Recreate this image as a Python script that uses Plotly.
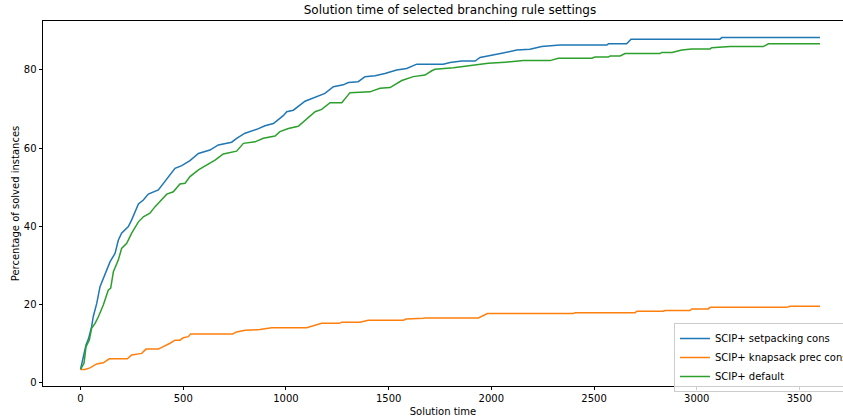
import plotly.graph_objects as go

# Cumulative share of solved instances over solution time (seconds)
setpacking_time = [0, 14, 27, 38, 54, 62, 79, 95, 111, 127, 144, 168, 184, 200, 233, 249,
                   265, 282, 306, 330, 379, 403, 436, 460, 493, 533, 574, 630, 671, 736,
                   760, 801, 858, 898, 939, 987, 1004, 1036, 1093, 1150, 1190, 1231, 1279,
                   1304, 1352, 1385, 1434, 1482, 1539, 1588, 1637, 1766, 1799, 1856, 1921,
                   1945, 2002, 2051, 2124, 2188, 2245, 2334, 2562, 2570, 2659, 2680, 3113,
                   3122, 3600]
setpacking_pct = [3.3, 6.6, 9.6, 11.0, 14.2, 16.8, 20.2, 24.5, 26.6, 28.3, 30.9, 33.0, 36.4,
                  38.2, 39.9, 41.6, 43.7, 45.7, 46.7, 48.2, 49.3, 51.0, 53.1, 54.8, 55.5,
                  56.8, 58.6, 59.5, 60.8, 61.5, 62.5, 63.8, 64.8, 65.7, 66.3, 68.3, 69.3,
                  69.7, 72.0, 73.2, 74.0, 75.7, 76.2, 76.8, 77.0, 78.3, 78.5, 79.1, 80.0,
                  80.4, 81.5, 81.5, 81.9, 82.3, 82.3, 83.2, 83.7, 84.3, 85.1, 85.3, 86.0,
                  86.4, 86.4, 86.7, 86.7, 87.9, 87.9, 88.3, 88.3]

knapsack_time = [0, 22, 46, 79, 111, 140, 228, 249, 298, 319, 379, 411, 436, 460, 484, 500,
                 525, 536, 741, 760, 801, 874, 931, 1101, 1142, 1174, 1260, 1272, 1361, 1401,
                 1572, 1585, 1669, 1677, 1937, 1969, 1981, 2399, 2407, 2700, 2708, 2837,
                 2845, 2967, 2976, 3056, 3065, 3438, 3454, 3600]
knapsack_pct = [3.3, 3.3, 3.7, 4.7, 5.0, 6.0, 6.0, 7.0, 7.4, 8.5, 8.5, 9.3, 10.0, 10.8, 10.8,
                11.4, 11.7, 12.4, 12.4, 12.9, 13.3, 13.5, 14.0, 14.0, 14.7, 15.1, 15.1, 15.4,
                15.4, 15.9, 15.9, 16.2, 16.4, 16.5, 16.5, 17.2, 17.6, 17.6, 17.8, 17.8, 18.2,
                18.2, 18.4, 18.4, 18.8, 18.8, 19.2, 19.2, 19.5, 19.5]

default_time = [0, 17, 27, 43, 54, 71, 87, 111, 135, 147, 160, 184, 200, 225, 249, 282, 306,
                338, 363, 395, 420, 452, 484, 509, 533, 574, 614, 655, 695, 760, 793, 850,
                890, 947, 971, 1012, 1060, 1109, 1142, 1174, 1215, 1272, 1312, 1409, 1458,
                1507, 1564, 1620, 1677, 1710, 1726, 1815, 1880, 1953, 1985, 2067, 2156, 2286,
                2326, 2489, 2505, 2570, 2578, 2627, 2651, 2821, 2830, 2880, 2927, 2976, 3065,
                3073, 3162, 3324, 3349, 3600]
default_pct = [3.3, 4.9, 9.1, 10.8, 13.8, 15.1, 16.8, 19.8, 23.6, 24.1, 28.3, 31.3, 34.3,
               35.6, 38.2, 41.1, 42.4, 43.3, 45.0, 46.7, 48.2, 48.8, 50.8, 51.0, 52.7, 54.4,
               55.7, 56.9, 58.5, 59.2, 61.2, 61.6, 62.5, 63.1, 64.2, 65.0, 65.6, 67.9, 69.3,
               69.9, 71.6, 71.6, 74.2, 74.4, 75.3, 75.5, 77.3, 78.3, 78.7, 79.8, 80.2, 80.6,
               81.0, 81.5, 81.7, 82.0, 82.4, 82.4, 83.0, 83.0, 83.3, 83.3, 83.6, 83.6, 84.2,
               84.2, 84.5, 84.5, 85.1, 85.4, 85.4, 85.7, 86.0, 86.0, 86.7, 86.7]

series = [
    ("SCIP+ setpacking cons", setpacking_time, setpacking_pct, "#1f77b4"),
    ("SCIP+ knapsack prec cons", knapsack_time, knapsack_pct, "#ff7f0e"),
    ("SCIP+ default", default_time, default_pct, "#2ca02c"),
]

x_ticks = [0, 500, 1000, 1500, 2000, 2500, 3000, 3500]
y_ticks = [0, 20, 40, 60, 80]

FONT = "DejaVu Sans"

fig = go.Figure()
for name, t, p, color in series:
    assert len(t) == len(p), name
    fig.add_trace(go.Scatter(x=t, y=p, mode="lines", name=name,
                             line=dict(color=color, width=1.5)))

axis_common = dict(showgrid=False, zeroline=False, showline=True, linecolor="black",
                   linewidth=0.8, ticks="outside", ticklen=3.5, tickwidth=0.8,
                   tickcolor="black", tickfont=dict(family=FONT, size=10, color="black"))

fig.update_layout(
    width=843, height=419,
    margin=dict(l=43, r=0, t=21, b=33, autoexpand=False),
    paper_bgcolor="white", plot_bgcolor="white",
    font=dict(family=FONT, size=10, color="black"),
    title=dict(text="Solution time of selected branching rule settings",
               x=450 / 843, xanchor="center", y=1 - 10 / 419, yanchor="middle",
               font=dict(family=FONT, size=12, color="black")),
    xaxis=dict(range=[-182.6, 3712], tickvals=x_ticks, mirror=True,
               title=dict(text="Solution time", standoff=4,
                          font=dict(family=FONT, size=10, color="black")),
               **axis_common),
    yaxis=dict(range=[-0.95, 92.55], tickvals=y_ticks,
               title=dict(text="Percentage of solved instances", standoff=2,
                          font=dict(family=FONT, size=10, color="black")),
               **axis_common),
    legend=dict(x=(674 - 43) / 800, xanchor="left", y=(386 - 323) / 365, yanchor="top",
                bgcolor="rgba(255,255,255,0.8)", bordercolor="#cccccc", borderwidth=1,
                font=dict(family=FONT, size=10, color="black"), tracegroupgap=0),
    showlegend=True,
)

fig.write_html("out.html")
